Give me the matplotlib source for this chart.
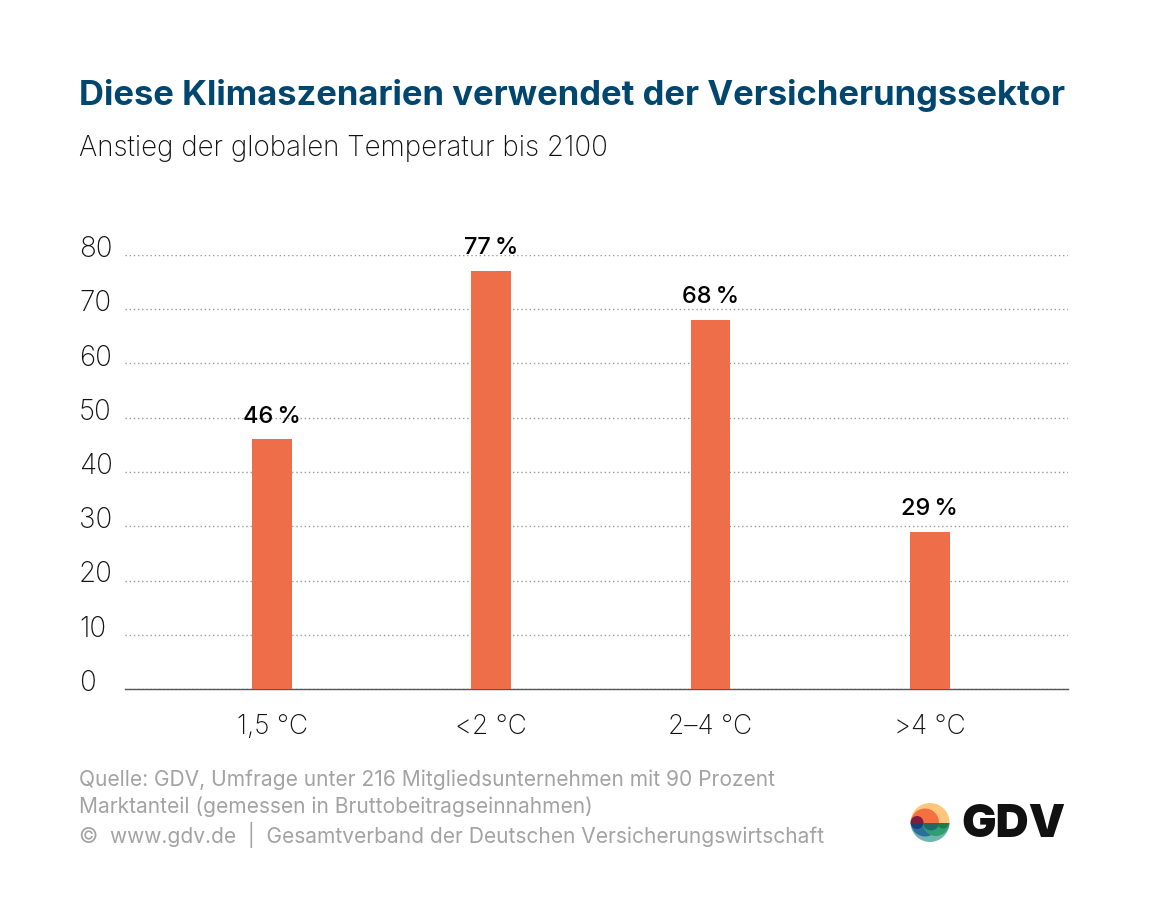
import matplotlib
matplotlib.use("Agg")
import matplotlib.pyplot as plt
from matplotlib.patches import Circle, Rectangle

plt.rcParams["font.family"] = ["Inter", "DejaVu Sans"]

categories = ["1,5 °C", "<2 °C", "2–4 °C", ">4 °C"]
values = [46, 77, 68, 29]
value_labels = ["46\u2009%", "77\u2009%", "68\u2009%", "29\u2009%"]
yticks = [0, 10, 20, 30, 40, 50, 60, 70, 80]

W, H = 1156, 921
BAR = "#ef6e4a"
BLUE = "#00466e"
GREY = "#a3a3a3"
INK = "#111111"

fig = plt.figure(figsize=(W / 100, H / 100), dpi=100, facecolor="white")

# plot area in pixels: x 125..1068, y 255..689
ax = fig.add_axes([125 / W, 1 - 689 / H, 943 / W, 434 / H])
ax.bar(range(4), values, width=0.182, color=BAR, zorder=3)
ax.set_xlim(-0.671, 3.631)
ax.set_ylim(0, 80)
for s in ("top", "right", "left"):
    ax.spines[s].set_visible(False)
ax.spines["bottom"].set_color("#555555")
ax.spines["bottom"].set_linewidth(1)
ax.set_yticks(yticks)
ax.set_yticklabels([])
ax.tick_params(axis="y", length=0)
ax.tick_params(axis="x", length=0, pad=18, labelsize=19, labelcolor=INK)
ax.set_xticks(range(4))
ax.set_xticklabels(categories, fontweight="light")
ax.grid(axis="y", color="#999999", lw=1, ls=(0, (1, 2)), zorder=0)
ax.set_axisbelow(True)

for t in yticks:
    ax.annotate(str(t), (0, t), xycoords=("figure fraction", "data"),
                xytext=(79 * 0.72, 5.5 * 0.72), textcoords="offset points",
                ha="left", va="center", fontsize=20, fontweight="light", color=INK)

for i, (v, lab) in enumerate(zip(values, value_labels)):
    ax.annotate(lab, (i, v), xytext=(0, 8.5), textcoords="offset points",
                ha="center", va="bottom", fontsize=17, fontweight="medium",
                color="black", zorder=4)

fig.text(79 / W, 1 - 95 / H, "Diese Klimaszenarien verwendet der Versicherungssektor",
         fontsize=24.9, fontweight="bold", color=BLUE, va="center", ha="left")
fig.text(79 / W, 1 - 148 / H, "Anstieg der globalen Temperatur bis 2100",
         fontsize=20, fontweight="light", color=INK, va="center", ha="left")

source = ["Quelle: GDV, Umfrage unter 216 Mitgliedsunternehmen mit 90 Prozent",
          "Marktanteil (gemessen in Bruttobeitragseinnahmen)",
          "©  www.gdv.de  |  Gesamtverband der Deutschen Versicherungswirtschaft"]
for y, line in zip([780, 807, 835], source):
    fig.text(79 / W, 1 - y / H, line, fontsize=15.1, color=GREY, va="center", ha="left")

# logo, drawn in pixel coordinates
logo = fig.add_axes([0, 0, 1, 1], facecolor="none")
logo.set_xlim(0, W)
logo.set_ylim(H, 0)
logo.axis("off")
cx, cy = 930, 822.5
top = Rectangle((900, 790), 60, cy - 790, transform=logo.transData)
bottom = Rectangle((900, cy), 60, 40, transform=logo.transData)


def disc(x, y, r, color, clip):
    c = Circle((x, y), r, color=color, lw=0)
    logo.add_patch(c)
    c.set_clip_path(clip)
    return c


disc(cx, cy, 19.5, "#fdc67a", top)
disc(cx, cy, 19.5, "#6fb5b0", bottom)
disc(cx - 5, cy, 14, "#f4703f", top)
disc(cx - 5, cy, 14, "#2a6f9b", bottom)
disc(cx + 6, cy, 13.5, "#2f9e6f", bottom)
disc(cx - 13, cy, 6.5, "#7c1f3f", top)
disc(cx - 13, cy, 6.5, "#1c3f7a", bottom)
disc(cx + 1, cy, 8, "#1e6a68", bottom)
disc(cx + 13, cy, 6, "#1c7a4c", bottom)

logo.text(961, 825, "GDV", fontsize=33, fontweight="black", color=INK, ha="left", va="center")

fig.savefig("out.png", dpi=100)
